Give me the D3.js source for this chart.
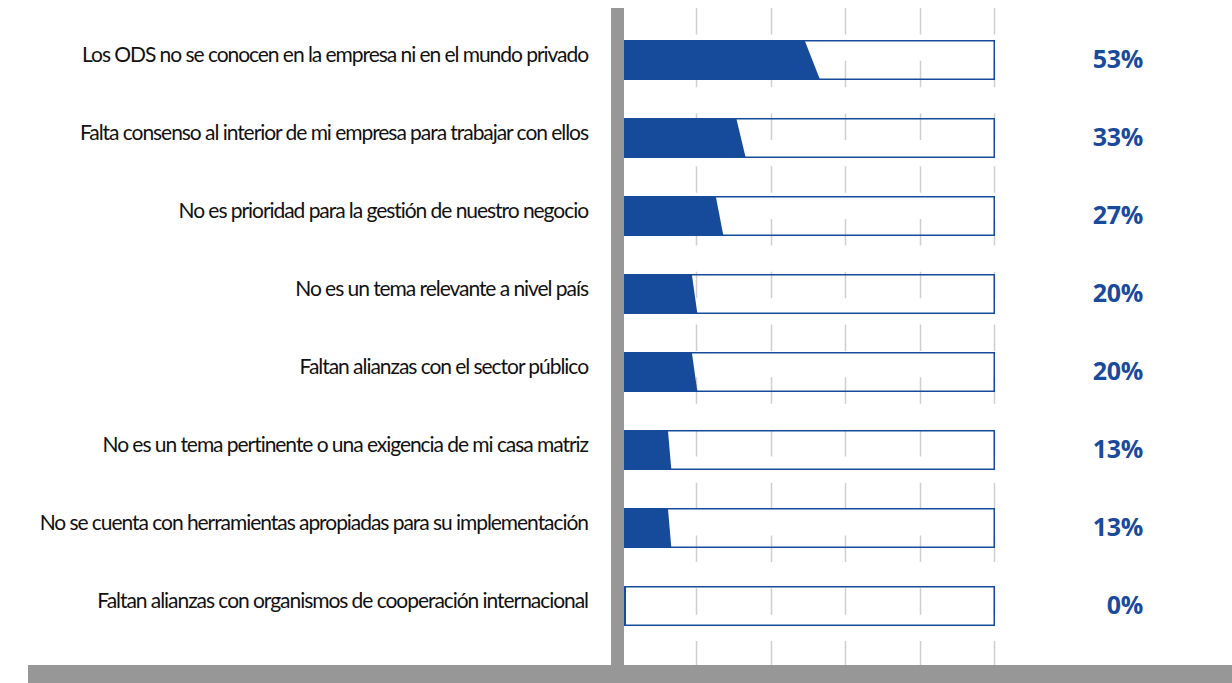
<!DOCTYPE html>
<html>
<head>
<meta charset="utf-8">
<script src="https://cdn.jsdelivr.net/npm/d3@7"></script>
<style>
  html, body { margin: 0; padding: 0; background: #fff; }
  svg { display: block; }
</style>
</head>
<body>
<svg id="chart" width="1232" height="683"></svg>
<script>
// Motivos por los que no se trabaja con los ODS (porcentaje de empresas)
const categories = [
  "Los ODS no se conocen en la empresa ni en el mundo privado",
  "Falta consenso al interior de mi empresa para trabajar con ellos",
  "No es prioridad para la gestión de nuestro negocio",
  "No es un tema relevante a nivel país",
  "Faltan alianzas con el sector público",
  "No es un tema pertinente o una exigencia de mi casa matriz",
  "No se cuenta con herramientas apropiadas para su implementación",
  "Faltan alianzas con organismos de cooperación internacional"
];
const values = [53, 33, 27, 20, 20, 13, 13, 0];
const valueLabels = ["53%", "33%", "27%", "20%", "20%", "13%", "13%", "0%"];
const gridTicks = [20, 40, 60, 80, 100];

const W = 1232, H = 683;
const svg = d3.select("#chart");

const blue = "#164a9a";
const grey = "#979797";

// bottom edge of each bar follows x; the top edge is foreshortened (perspective)
const x = d3.scaleLinear().domain([0, 100]).range([623, 995]);
const xTop = d3.scaleLinear().domain([0, 100]).range([623.5, 965]);
const y = d3.scalePoint().domain(categories).range([60, 606]);
const barH = 40;

const plotTop = 8, plotBottom = 665;

const trackAttrs = sel => sel
  .attr("x", x(0) + 0.75)
  .attr("y", d => y(d) - barH / 2 + 0.75)
  .attr("width", x(100) - x(0) - 1.5)
  .attr("height", barH - 1.5);

// white track behind each bar
svg.append("g").selectAll("rect")
  .data(categories)
  .join("rect")
  .call(trackAttrs)
  .attr("fill", "#fff");

// vertical gridlines, broken by the depth of the back wall
svg.append("g").selectAll("line")
  .data(gridTicks)
  .join("line")
  .attr("x1", d => Math.round(x(d)) - 0.5)
  .attr("x2", d => Math.round(x(d)) - 0.5)
  .attr("y1", plotTop)
  .attr("y2", plotBottom)
  .attr("stroke", "#cfcfcf")
  .attr("stroke-width", 1.5)
  .attr("stroke-dasharray", "26.5 26.25");

// filled portion of each bar
svg.append("g").selectAll("path")
  .data(categories.map((c, i) => ({ c, v: values[i] })))
  .join("path")
  .attr("fill", blue)
  .attr("d", d => {
    const y0 = y(d.c) - barH / 2, y1 = y(d.c) + barH / 2;
    const x0 = x(0);
    const xb = Math.max(x(d.v), x0 + 3);
    const xt = Math.max(xTop(d.v), x0 + 3);
    return `M${x0},${y0}L${xt},${y0}L${xb},${y1}L${x0},${y1}Z`;
  });

// track outlines
svg.append("g").selectAll("rect")
  .data(categories)
  .join("rect")
  .call(trackAttrs)
  .attr("fill", "none")
  .attr("stroke", blue)
  .attr("stroke-width", 1.5);

// axis walls
svg.append("rect")
  .attr("x", 611).attr("y", plotTop)
  .attr("width", 13).attr("height", plotBottom - plotTop)
  .attr("fill", grey);
svg.append("rect")
  .attr("x", 28).attr("y", plotBottom)
  .attr("width", W - 28).attr("height", H - plotBottom)
  .attr("fill", grey);

// category labels
svg.append("g").selectAll("text")
  .data(categories)
  .join("text")
  .attr("x", 588)
  .attr("y", d => y(d) + 1.5)
  .attr("text-anchor", "end")
  .attr("font-family", "Lato, 'Liberation Sans', sans-serif")
  .attr("font-size", 21)
  .attr("letter-spacing", -1.05)
  .attr("fill", "#111")
  .text(d => d);

// value labels
svg.append("g").selectAll("text")
  .data(categories.map((c, i) => ({ c, t: valueLabels[i] })))
  .join("text")
  .attr("x", 1143)
  .attr("y", d => y(d.c) + 7.5)
  .attr("text-anchor", "end")
  .attr("font-family", "'Open Sans', sans-serif")
  .attr("font-weight", 700)
  .attr("font-size", 25)
  .attr("letter-spacing", -0.3)
  .attr("fill", "#1a4a9c")
  .text(d => d.t);
</script>
</body>
</html>
